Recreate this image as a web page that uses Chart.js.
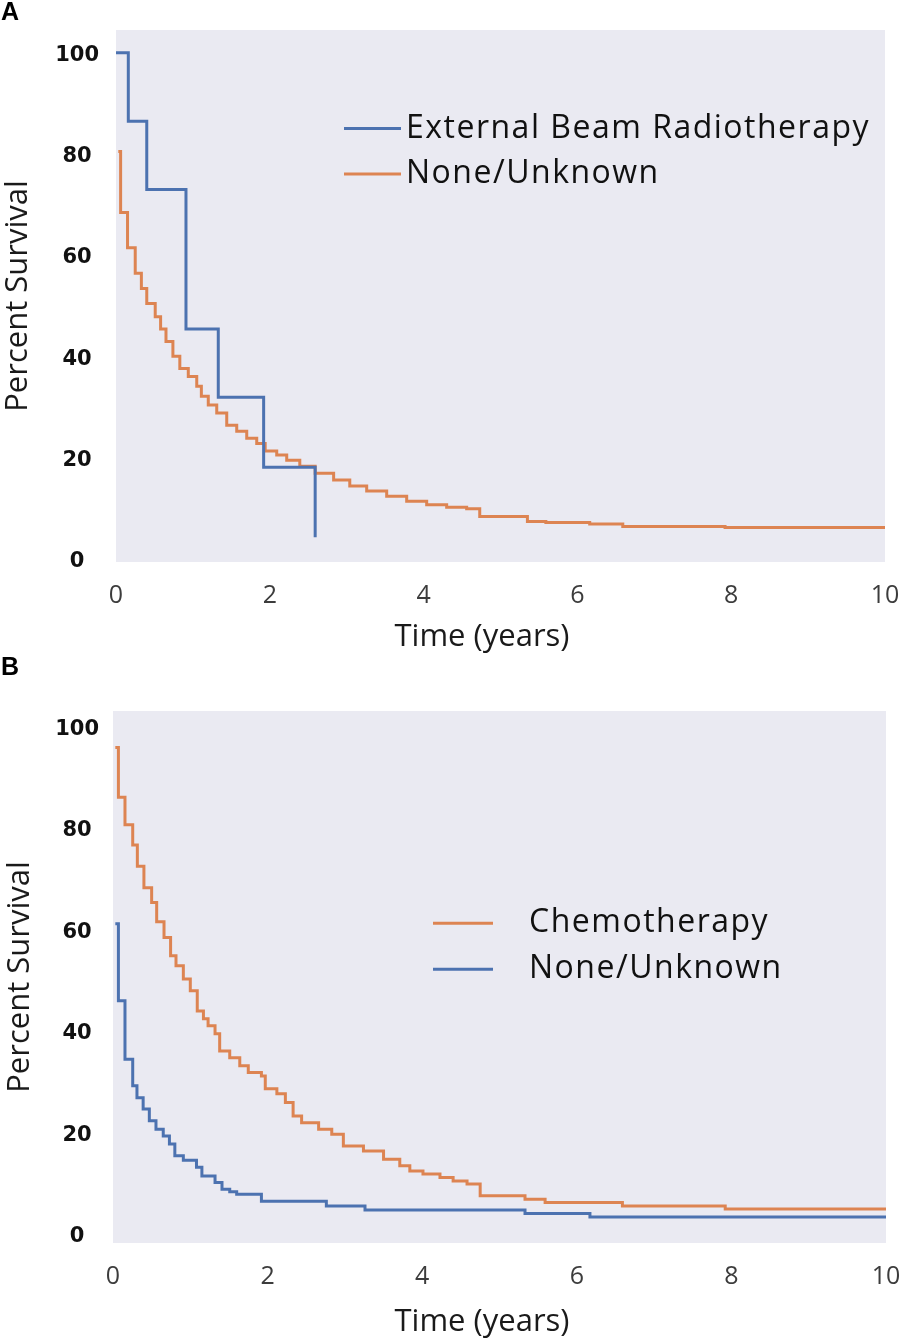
<!DOCTYPE html>
<html>
<head>
<meta charset="utf-8">
<script src="https://cdn.jsdelivr.net/npm/chart.js@4.4.1/dist/chart.umd.min.js"></script>
<style>
  body { margin: 0; background: #fff; width: 902px; height: 1344px; position: relative; overflow: hidden; }
  .panel { position: absolute; left: 0; }
  .tag { position: absolute; left: 1px; z-index: 2; font: bold 25px "Liberation Sans", Arial, sans-serif; color: #000; }
</style>
</head>
<body>
<div class="tag" style="top:-3px">A</div>
<div class="panel" style="top:0px"><canvas id="chartA" width="902" height="662"></canvas></div>
<div class="tag" style="top:652px">B</div>
<div class="panel" style="top:664px"><canvas id="chartB" width="902" height="680"></canvas></div>
<script>
// axis ticks
const xTicks = [0, 2, 4, 6, 8, 10];
const yTicks = [0, 20, 40, 60, 80, 100];

// panel A - external beam radiotherapy vs none/unknown
const labelsA = ["External Beam Radiotherapy", "None/Unknown"];
const tA_ebrt = [0, 0.16, 0.40, 0.91, 1.33, 1.92, 2.59];
const sA_ebrt = [100.5, 87, 73.5, 46, 32.5, 18.7, 4.9];
const tA_none = [0.03, 0.06, 0.15, 0.25, 0.33, 0.40, 0.51, 0.58, 0.65, 0.74, 0.83, 0.94, 1.05, 1.11, 1.20, 1.31, 1.44, 1.57, 1.70, 1.83,
                 1.94, 2.09, 2.22, 2.39, 2.59, 2.83, 3.04, 3.26, 3.52, 3.78, 4.04, 4.30, 4.56, 4.73, 5.35, 5.59, 6.16, 6.59, 7.92, 10];
const sA_none = [81, 69, 62, 57, 54, 51, 48.4, 46, 43.5, 40.6, 38.2, 36.6, 34.7, 32.7, 31, 29.4, 27, 25.8, 24.4, 23.4,
                 21.9, 21.1, 20.1, 18.9, 17.5, 16.2, 15, 14, 13, 12, 11.3, 10.8, 10.5, 9.0, 8.0, 7.8, 7.5, 7.0, 6.8, 6.8];

// panel B - chemotherapy vs none/unknown
const labelsB = ["Chemotherapy", "None/Unknown"];
const tB_chemo = [0.03, 0.07, 0.155, 0.255, 0.315, 0.40, 0.50, 0.565, 0.66, 0.745, 0.815, 0.91, 1.0, 1.09, 1.17, 1.23, 1.32, 1.38, 1.51, 1.64,
                  1.75, 1.92, 1.97, 2.12, 2.23, 2.33, 2.44, 2.66, 2.83, 2.98, 3.24, 3.50, 3.71, 3.84, 4.01, 4.23, 4.40, 4.58, 4.75, 5.33,
                  5.59, 6.59, 7.92, 10];
const sB_chemo = [96.4, 86.6, 81.2, 77.2, 73.0, 68.8, 65.9, 62.1, 59.0, 55.4, 53.4, 50.8, 48.5, 44.5, 43.0, 41.6, 40.0, 36.6, 35.3, 33.7,
                  32.4, 31.7, 29.2, 28.2, 26.5, 23.8, 22.5, 21.2, 20.2, 17.9, 16.9, 15.3, 14.0, 13.0, 12.4, 11.7, 11.0, 10.4, 8.1, 7.4,
                  6.8, 6.1, 5.5, 5.5];
const tB_none = [0.03, 0.07, 0.155, 0.255, 0.31, 0.39, 0.47, 0.556, 0.65, 0.73, 0.80, 0.91, 1.08, 1.15, 1.32, 1.41, 1.51, 1.60, 1.92, 2.76,
                 3.26, 5.33, 6.17, 10];
const sB_none = [61.7, 46.5, 35.0, 29.8, 27.4, 25.2, 22.9, 21.2, 19.9, 18.3, 16.0, 15.1, 13.7, 12.0, 10.7, 9.4, 8.9, 8.4, 7.0, 6.1,
                 5.3, 4.6, 3.9, 3.9];

const BLUE = '#4c72b0';
const ORANGE = '#dd8452';

function toPoints(ts, vs) {
  var pts = [];
  for (let i = 0; i < ts.length; i++) {
    pts.push({x: ts[i], y: vs[i]});
  }
  return pts;
}

function kmLine(label, ts, vs, color) {
  return {
    label: label,
    data: toPoints(ts, vs),
    borderColor: color,
    borderWidth: 3,
    pointRadius: 0,
    stepped: 'before',
    fill: false,
    clip: false
  };
}

const plotBg = {
  id: 'plotBg',
  beforeDraw(chart) {
    const a = chart.chartArea;
    chart.ctx.save();
    chart.ctx.fillStyle = '#eaeaf2';
    chart.ctx.fillRect(a.left, a.top, a.right - a.left, a.bottom - a.top);
    chart.ctx.restore();
  }
};

// legend + x axis title, placed where the original figure has them
const kmLegend = {
  id: 'kmLegend',
  afterDraw(chart, args, opts) {
    const ctx = chart.ctx;
    ctx.save();
    ctx.textBaseline = 'middle';
    ctx.font = '31px "Open Sans", sans-serif';
    ctx.fillStyle = '#1a1a1a';
    ctx.textAlign = 'center';
    ctx.fillText('Time (years)', opts.titleX, opts.titleY);

    ctx.font = '32px "Open Sans", sans-serif';
    ctx.letterSpacing = '1.5px';
    ctx.textAlign = 'left';
    chart.data.datasets.forEach(function (ds, i) {
      const y = opts.y + i * opts.rowGap;
      ctx.strokeStyle = ds.borderColor;
      ctx.lineWidth = 3;
      ctx.beginPath();
      ctx.moveTo(opts.x0, y);
      ctx.lineTo(opts.x1, y);
      ctx.stroke();
      ctx.fillStyle = '#111';
      ctx.fillText(ds.label, opts.textX, y);
    });
    ctx.restore();
  }
};

function makeChart(id, datasets, s) {
  return new Chart(document.getElementById(id), {
    type: 'line',
    data: {datasets: datasets},
    options: {
      responsive: false,
      animation: false,
      devicePixelRatio: 1,
      layout: {padding: {top: s.top, right: s.right, left: 0, bottom: 0}},
      plugins: {
        legend: {display: false},
        tooltip: {enabled: false},
        kmLegend: s.legend
      },
      scales: {
        x: {
          type: 'linear',
          min: 0,
          max: 10,
          afterBuildTicks: function (scale) { scale.ticks = xTicks.map(v => ({value: v})); },
          afterFit: function (scale) {
            scale.height = s.xHeight;
            scale.paddingLeft = 0;
            scale.paddingRight = 0;
          },
          grid: {display: false, drawTicks: false},
          border: {display: false},
          ticks: {color: '#3c3c3c', padding: s.xPad, font: {family: '"Open Sans"', size: 25}}
        },
        y: {
          min: s.yMin,
          max: s.yMax,
          afterBuildTicks: function (scale) { scale.ticks = yTicks.map(v => ({value: v})); },
          afterFit: function (scale) { scale.width = s.yWidth; },
          grid: {display: false, drawTicks: false},
          border: {display: false},
          ticks: {color: '#111', padding: s.yPad, crossAlign: 'center',
                  font: {family: '"DejaVu Sans"', size: 21, weight: 'bold'}},
          title: {display: true, text: 'Percent Survival', color: '#1a1a1a', padding: {top: s.yTitlePad, bottom: 0},
                  font: {family: '"Open Sans"', size: 31}}
        }
      }
    },
    plugins: [plotBg, kmLegend]
  });
}

makeChart('chartA', [
  kmLine(labelsA[0], tA_ebrt, sA_ebrt, BLUE),
  kmLine(labelsA[1], tA_none, sA_none, ORANGE)
], {
  top: 30, right: 17, xHeight: 100, yWidth: 116, yMin: 0, yMax: 105,
  xPad: 19, yPad: 17, yTitlePad: 0,
  legend: {x0: 344, x1: 401, textX: 406, y: 128.5, rowGap: 45.5, titleX: 482, titleY: 637}
});

makeChart('chartB', [
  kmLine(labelsB[0], tB_chemo, sB_chemo, ORANGE),
  kmLine(labelsB[1], tB_none, sB_none, BLUE)
], {
  top: 47, right: 16, xHeight: 101, yWidth: 113, yMin: -1.2, yMax: 103.6,
  xPad: 19, yPad: 14, yTitlePad: 2,
  legend: {x0: 433, x1: 493, textX: 529, y: 259.3, rowGap: 46, titleX: 482, titleY: 658}
});
</script>
</body>
</html>
